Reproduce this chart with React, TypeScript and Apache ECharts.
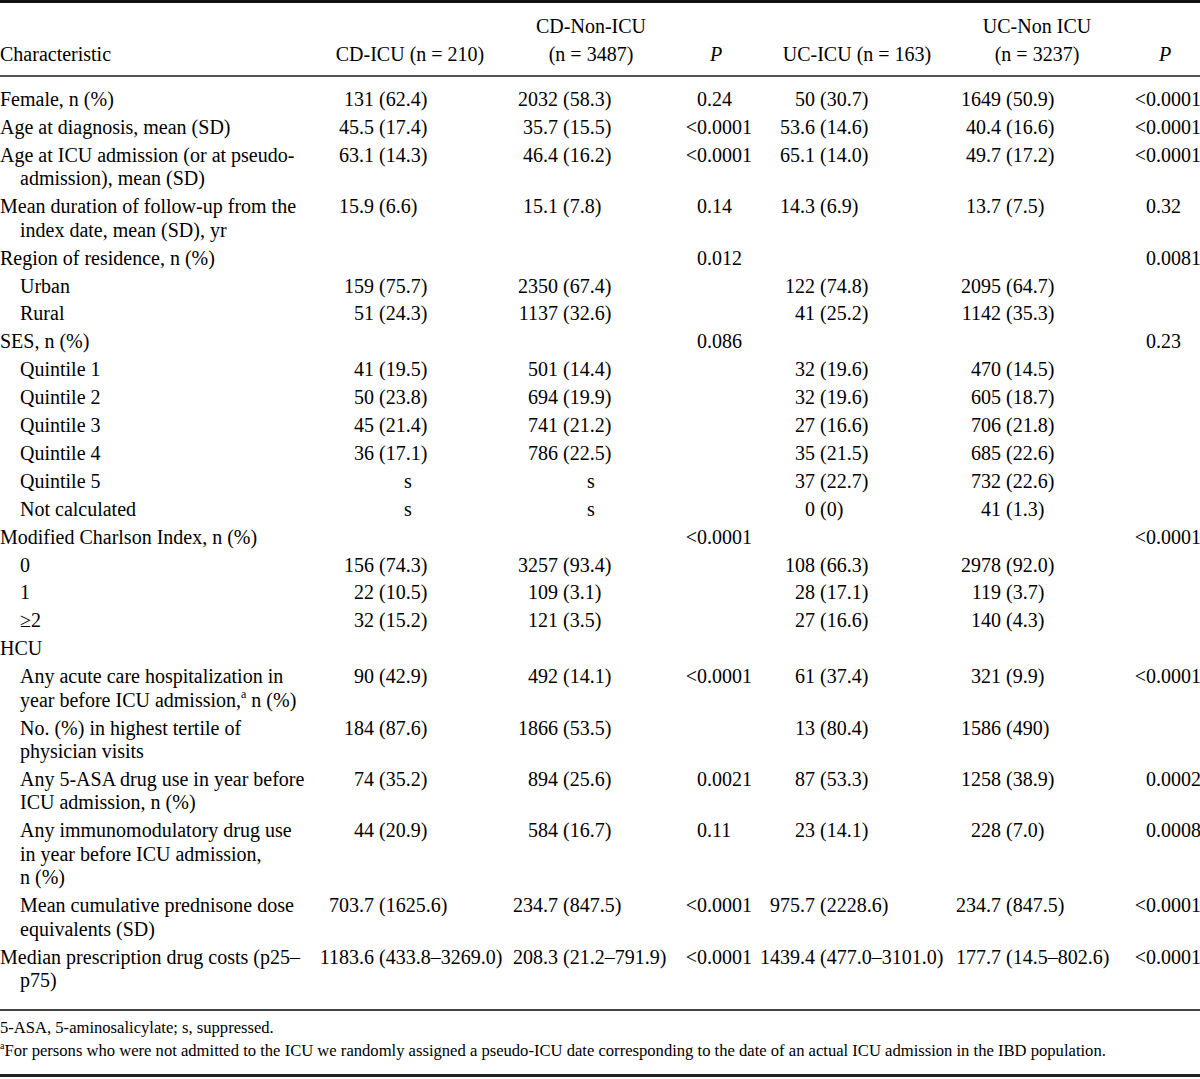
import React, { useEffect, useRef } from "react";
import * as echarts from "echarts";

// ---------- DATA ----------
const headerTop = ["", "", "CD-Non-ICU", "", "", "UC-Non ICU", ""];
const headerBottom = ["Characteristic", "CD-ICU (n = 210)", "(n = 3487)", "P", "UC-ICU (n = 163)", "(n = 3237)", "P"];

const characteristics: string[][] = [
  ["Female, n (%)"],
  ["Age at diagnosis, mean (SD)"],
  ["Age at ICU admission (or at pseudo-", "admission), mean (SD)"],
  ["Mean duration of follow-up from the", "index date, mean (SD), yr"],
  ["Region of residence, n (%)"],
  ["Urban"],
  ["Rural"],
  ["SES, n (%)"],
  ["Quintile 1"],
  ["Quintile 2"],
  ["Quintile 3"],
  ["Quintile 4"],
  ["Quintile 5"],
  ["Not calculated"],
  ["Modified Charlson Index, n (%)"],
  ["0"],
  ["1"],
  ["≥2"],
  ["HCU"],
  ["Any acute care hospitalization in", "year before ICU admission,^a n (%)"],
  ["No. (%) in highest tertile of", "physician visits"],
  ["Any 5-ASA drug use in year before", "ICU admission, n (%)"],
  ["Any immunomodulatory drug use", "in year before ICU admission,", "n (%)"],
  ["Mean cumulative prednisone dose", "equivalents (SD)"],
  ["Median prescription drug costs (p25–", "p75)"],
];

const indentLevels = [0, 0, 0, 0, 0, 1, 1, 0, 1, 1, 1, 1, 1, 1, 0, 1, 1, 1, 0, 1, 1, 1, 1, 1, 0];

const cdIcu = [
  "131 (62.4)", "45.5 (17.4)", "63.1 (14.3)", "15.9 (6.6)", "", "159 (75.7)", "51 (24.3)", "",
  "41 (19.5)", "50 (23.8)", "45 (21.4)", "36 (17.1)", "s", "s", "", "156 (74.3)", "22 (10.5)", "32 (15.2)", "",
  "90 (42.9)", "184 (87.6)", "74 (35.2)", "44 (20.9)", "703.7 (1625.6)", "1183.6 (433.8–3269.0)",
];
const cdNonIcu = [
  "2032 (58.3)", "35.7 (15.5)", "46.4 (16.2)", "15.1 (7.8)", "", "2350 (67.4)", "1137 (32.6)", "",
  "501 (14.4)", "694 (19.9)", "741 (21.2)", "786 (22.5)", "s", "s", "", "3257 (93.4)", "109 (3.1)", "121 (3.5)", "",
  "492 (14.1)", "1866 (53.5)", "894 (25.6)", "584 (16.7)", "234.7 (847.5)", "208.3 (21.2–791.9)",
];
const pCd = [
  "0.24", "<0.0001", "<0.0001", "0.14", "0.012", "", "", "0.086",
  "", "", "", "", "", "", "<0.0001", "", "", "", "",
  "<0.0001", "", "0.0021", "0.11", "<0.0001", "<0.0001",
];
const ucIcu = [
  "50 (30.7)", "53.6 (14.6)", "65.1 (14.0)", "14.3 (6.9)", "", "122 (74.8)", "41 (25.2)", "",
  "32 (19.6)", "32 (19.6)", "27 (16.6)", "35 (21.5)", "37 (22.7)", "0 (0)", "", "108 (66.3)", "28 (17.1)", "27 (16.6)", "",
  "61 (37.4)", "13 (80.4)", "87 (53.3)", "23 (14.1)", "975.7 (2228.6)", "1439.4 (477.0–3101.0)",
];
const ucNonIcu = [
  "1649 (50.9)", "40.4 (16.6)", "49.7 (17.2)", "13.7 (7.5)", "", "2095 (64.7)", "1142 (35.3)", "",
  "470 (14.5)", "605 (18.7)", "706 (21.8)", "685 (22.6)", "732 (22.6)", "41 (1.3)", "", "2978 (92.0)", "119 (3.7)", "140 (4.3)", "",
  "321 (9.9)", "1586 (490)", "1258 (38.9)", "228 (7.0)", "234.7 (847.5)", "177.7 (14.5–802.6)",
];
const pUc = [
  "<0.0001", "<0.0001", "<0.0001", "0.32", "0.0081", "", "", "0.23",
  "", "", "", "", "", "", "<0.0001", "", "", "", "",
  "<0.0001", "", "0.0002", "0.0008", "<0.0001", "<0.0001",
];

const footnotes = [
  "5-ASA, 5-aminosalicylate; s, suppressed.",
  "^aFor persons who were not admitted to the ICU we randomly assigned a pseudo-ICU date corresponding to the date of an actual ICU admission in the IBD population.",
];

// ---------- LAYOUT ----------
const W = 1200;
const H = 1079;
const FAMILY = '"Liberation Serif", "Times New Roman", serif';
const FS = 20;
const FOOT_FS = 16.6;
const COLOR = "#000";

const ROW0 = 99;
const ROW_PITCH = 27.9;
const LINE_PITCH = 23.5;
const INDENT = 20;

const valueCols = [
  { data: cdIcu, anchor: 379, center: 408, kind: "value" },
  { data: cdNonIcu, anchor: 563, center: 591, kind: "value" },
  { data: pCd, anchor: 697, center: 716, kind: "p" },
  { data: ucIcu, anchor: 820, center: 857, kind: "value" },
  { data: ucNonIcu, anchor: 1006, center: 1037, kind: "value" },
  { data: pUc, anchor: 1146, center: 1165, kind: "p" },
];
const headerCenters = [0, 410, 591, 716, 857, 1037, 1165];

let ctx2d: CanvasRenderingContext2D | null = null;
function measure(text: string, size: number, italic = false): number {
  if (!ctx2d) ctx2d = document.createElement("canvas").getContext("2d");
  if (!ctx2d) return text.length * size * 0.5;
  ctx2d.font = `${italic ? "italic " : ""}${size}px ${FAMILY}`;
  return ctx2d.measureText(text).width;
}

function buildElements() {
  const els: any[] = [];
  const txt = (text: string, x: number, y: number, align = "left", size = FS, italic = false) => {
    els.push({
      type: "text",
      silent: true,
      style: {
        text,
        x,
        y,
        fill: COLOR,
        fontSize: size,
        fontFamily: FAMILY,
        fontStyle: italic ? "italic" : "normal",
        textAlign: align,
        textVerticalAlign: "middle",
        align,
        verticalAlign: "middle",
      },
    });
  };
  // text with ^x superscripts, left aligned
  const richLine = (line: string, x: number, y: number, size: number) => {
    const parts = line.split(/\^(\w)/);
    let cx = x;
    parts.forEach((p, i) => {
      if (!p) return;
      if (i % 2 === 1) {
        const s = Math.round(size * 0.62);
        txt(p, cx, y - size * 0.3, "left", s);
        cx += measure(p, s);
      } else {
        txt(p, cx, y, "left", size);
        cx += measure(p, size);
      }
    });
  };

  // rules
  els.push({ type: "rect", silent: true, shape: { x: 0, y: 0, width: W, height: 3 }, style: { fill: "#111" } });
  els.push({ type: "rect", silent: true, shape: { x: 0, y: 75, width: W, height: 2 }, style: { fill: "#555" } });
  els.push({ type: "rect", silent: true, shape: { x: 0, y: 1009, width: W, height: 2 }, style: { fill: "#444" } });
  els.push({ type: "rect", silent: true, shape: { x: 0, y: 1074, width: W, height: 3 }, style: { fill: "#222" } });

  // header
  headerTop.forEach((t, i) => {
    if (t) txt(t, headerCenters[i], 26, "center");
  });
  headerBottom.forEach((t, i) => {
    if (i === 0) txt(t, 0, 54, "left");
    else txt(t, headerCenters[i], 54, "center", FS, t === "P");
  });

  // body
  let y = ROW0;
  characteristics.forEach((lines, r) => {
    const base = indentLevels[r] * INDENT;
    lines.forEach((ln, li) => {
      const x = li === 0 ? base : INDENT;
      richLine(ln, x, y + li * LINE_PITCH, FS);
    });
    valueCols.forEach((col) => {
      const v = col.data[r];
      if (!v) return;
      if (col.kind === "p") {
        const x = v.startsWith("<") ? col.anchor - measure("<", FS) : col.anchor;
        txt(v, x, y, "left");
      } else if (v === "s") {
        txt(v, col.center, y, "center");
      } else {
        const k = v.indexOf(" (");
        const left = k >= 0 ? v.slice(0, k + 1) : v + " ";
        txt(v, col.anchor - measure(left, FS), y, "left");
      }
    });
    y += ROW_PITCH + (lines.length - 1) * LINE_PITCH;
  });

  // footnotes
  footnotes.forEach((f, i) => richLine(f, 0, 1027 + i * 23, FOOT_FS));

  return els;
}

export default function App() {
  const ref = useRef<HTMLDivElement>(null);
  useEffect(() => {
    document.body.style.margin = "0";
    if (!ref.current) return;
    const chart = echarts.init(ref.current, undefined, { renderer: "svg" });
    chart.setOption({
      animation: false,
      backgroundColor: "#fff",
      graphic: { elements: buildElements() },
    });
    return () => chart.dispose();
  }, []);
  return <div ref={ref} style={{ width: W, height: H }} />;
}
